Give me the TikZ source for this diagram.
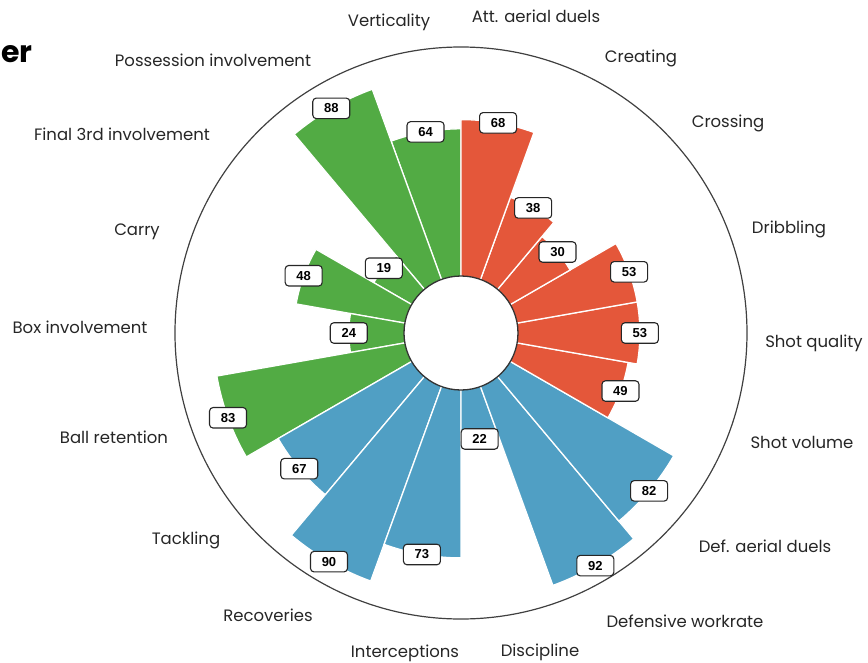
\documentclass[tikz,border=0pt]{standalone}
\usepackage{fontspec}
\setmainfont{Poppins}
\newfontfamily\numfont{Liberation Sans}
\usepackage{xcolor}
\usepackage{tikz}
\definecolor{attgreen}{HTML}{52AB44}
\definecolor{shotred}{HTML}{E4573A}
\definecolor{defblue}{HTML}{509FC4}
\pgfdeclarelayer{front}
\pgfsetlayers{main,front}
\tikzset{
  valbox/.style={draw=black!85, fill=white, rounded corners=3.5pt, line width=1.1pt,
    minimum width=37pt, minimum height=20.5pt, inner sep=0pt,
    font=\numfont\bfseries\fontsize{13}{13}\selectfont},
  plabel/.style={font=\fontsize{16.5}{17}\selectfont, text=black!85, inner sep=0pt}
}
\newcommand{\pizzaslice}[4]{  % 1 start angle, 2 value, 3 colour, 4 name
        \pgfmathsetmacro{\barlen}{57+2.3*#2}
        \filldraw[fill=#3, draw=white, line width=1.3pt]
            (0,0) -- (#1:\barlen) arc[start angle=#1, delta angle=20, radius=\barlen] -- cycle;
        \begin{pgfonlayer}{front}
            \node[valbox] (#4) at ({#1+10}:\barlen) {#2};%value on top
        \end{pgfonlayer}
}

\begin{document}
\begin{tikzpicture}[x=1pt, y=1pt]
		\useasboundingbox (-461,-329) rectangle (407,333);
		\pizzaslice{90}{64}{attgreen}{vert}
		\pizzaslice{110}{88}{attgreen}{poss}
		\pizzaslice{130}{19}{attgreen}{final}
		\pizzaslice{150}{48}{attgreen}{carry}
		\pizzaslice{170}{24}{attgreen}{box}
		\pizzaslice{190}{83}{attgreen}{retain}
		\pizzaslice{210}{67}{defblue}{tackle}
		\pizzaslice{230}{90}{defblue}{recov}
		\pizzaslice{250}{73}{defblue}{intercept}
		\pizzaslice{270}{22}{defblue}{discip}
		\pizzaslice{290}{92}{defblue}{workrate}
		\pizzaslice{310}{82}{defblue}{defaerial}
		\pizzaslice{330}{49}{shotred}{shotvol}
		\pizzaslice{350}{53}{shotred}{shotqual}
		\pizzaslice{10}{53}{shotred}{dribble}
		\pizzaslice{30}{30}{shotred}{cross}
		\pizzaslice{50}{38}{shotred}{create}
		\pizzaslice{70}{68}{shotred}{attaerial}
		% hub and rim
		\draw[fill=white, draw=black!80, line width=1.3pt] (0,0) circle[radius=57];
		\draw[black!75, line width=1.2pt] (0,0) circle[radius=286];
		% parameter names
		\node[plabel] (lvert) at (-72,311) {Verticality};
		\node[plabel] (lposs) at (-248,273) {Possession involvement};
		\node[plabel] (lfinal) at (-339,199) {Final 3rd involvement};
		\node[plabel] (lcarry) at (-324,101) {Carry};
		\node[plabel] (lbox) at (-381,6) {Box involvement};
		\node[plabel] (lretain) at (-347,-104) {Ball retention};
		\node[plabel] (ltackle) at (-275,-207) {Tackling};
		\node[plabel] (lrecov) at (-193,-282) {Recoveries};
		\node[plabel] (lintercept) at (-56,-320) {Interceptions};
		\node[plabel] (ldiscip) at (79,-319) {Discipline};
		\node[plabel] (lworkrate) at (224,-288) {Defensive workrate};
		\node[plabel] (ldefaerial) at (304,-213) {Def. aerial duels};
		\node[plabel] (lshotvol) at (341,-109) {Shot volume};
		\node[plabel] (lshotqual) at (353,-10) {Shot quality};
		\node[plabel] (ldribble) at (328,104) {Dribbling};
		\node[plabel] (lcross) at (267,210) {Crossing};
		\node[plabel] (lcreate) at (180,275) {Creating};
		\node[plabel] (lattaerial) at (75,317) {Att. aerial duels};
		% cut title
		\node[font=\bfseries\fontsize{30}{30}\selectfont, anchor=base west, inner sep=0pt] (title) at (-460,270) {er};
\end{tikzpicture}
\end{document}
